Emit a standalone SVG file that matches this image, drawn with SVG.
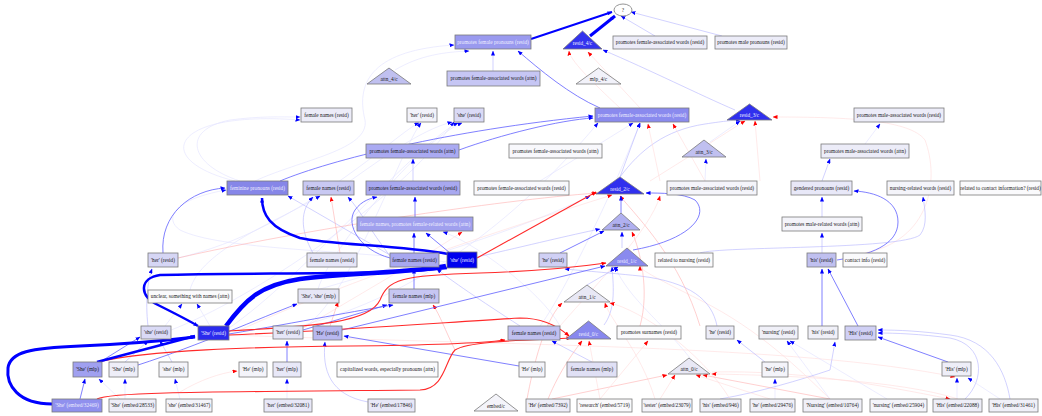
<svg xmlns="http://www.w3.org/2000/svg" width="1042" height="416" viewBox="0 0 1042 416">
<style>
.n rect,.n polygon,.n ellipse{stroke:#7a7a7a;stroke-width:0.8}
text{font-family:"Liberation Serif","Times New Roman",serif;font-size:5.3px;text-anchor:middle;fill:#1a1a1a}
text.w{fill:#eeeeff}
#edges path{fill:none}
.k{stroke:#0000ff}
.bm{stroke:#6060ff;stroke-width:0.8}
.bl{stroke:#b4b4ff;stroke-width:0.6}
.bf{stroke:#e0e0ff;stroke-width:0.6}
.rm{stroke:#ff2a2a;stroke-width:1.1}
.rl{stroke:#ffb0b0;stroke-width:0.6}
.rf{stroke:#ffdcdc;stroke-width:0.6}
.k,.bm,.bl,.bf{marker-end:url(#mb)}
.rm,.rl,.rf{marker-end:url(#mr)}
</style>
<defs>
<marker id="mb" markerUnits="userSpaceOnUse" markerWidth="5" markerHeight="4" refX="4.5" refY="2" orient="auto"><path d="M0,0 L5,2 L0,4 z" fill="#0000ff"/></marker>
<marker id="mr" markerUnits="userSpaceOnUse" markerWidth="5" markerHeight="4" refX="4.5" refY="2" orient="auto"><path d="M0,0 L5,2 L0,4 z" fill="#ff0000"/></marker>
</defs>
<rect width="1042" height="416" fill="#ffffff"/>
<g id="edges">
<path class="bf" d="M171,330 C 250,300 400,200 454,122"/>
<path class="bf" d="M178,258 C 300,230 400,130 419,123"/>
<path class="bf" d="M303,328 C 350,300 400,150 421,123"/>
<path class="bf" d="M229,328 C 300,280 420,140 458,123"/>
<path class="bf" d="M318,289 C 330,250 420,140 462,123"/>
<path class="bf" d="M447,262 C 350,250 220,250 180,230 C 165,220 170,200 226,190"/>
<path class="bf" d="M190,290 C 200,250 280,220 320,196"/>
<path class="bf" d="M210,326 L197,304"/>
<path class="bf" d="M165,326 L182,304"/>
<path class="bf" d="M560,326 C 540,290 470,240 443,232"/>
<path class="bf" d="M690,358 C 660,320 630,300 615,267"/>
<path class="bf" d="M540,326 C 560,300 610,200 640,123"/>
<path class="bf" d="M300,326 C 400,300 500,240 598,123"/>
<path class="bf" d="M320,289 C 420,260 520,230 590,196"/>
<path class="bf" d="M235,181 C 150,160 170,110 300,120"/>
<path class="rf" d="M229,335 C 500,345 800,345 955,377"/>
<path class="rf" d="M300,330 C 350,300 420,260 462,232"/>
<path class="rf" d="M712,372 C 800,370 880,385 950,399"/>
<path class="rf" d="M240,330 C 350,280 500,230 612,195"/>
<path class="rf" d="M865,253 C 930,240 940,180 925,140 C 910,120 850,117 773,117"/>
<path class="rf" d="M830,399 C 800,370 760,330 700,300 C 660,280 640,270 640,266"/>
<path class="rf" d="M560,326 C 600,280 650,230 660,196"/>
<path class="rf" d="M640,108 L588,52"/>
<path class="rf" d="M620,108 C 590,80 570,60 569,51"/>
<path class="rf" d="M650,181 C 700,150 730,130 745,121"/>
<path class="bl" d="M655,36 L621,16"/>
<path class="bl" d="M722,36 L631,12"/>
<path class="bl" d="M493,71 L493,51"/>
<path class="bf" d="M395,70 C 420,55 445,52 469,51"/>
<path class="bl" d="M413,181 L413,159"/>
<path class="bl" d="M735,110 C 700,95 650,70 603,50"/>
<path class="bl" d="M620,177 C 640,150 665,130 705,124 C 725,121 735,120 740,120"/>
<path class="bf" d="M710,142 L740,121"/>
<path class="bf" d="M705,181 L706,159"/>
<path class="bf" d="M865,144 L880,124"/>
<path class="bl" d="M822,181 L830,159"/>
<path class="bf" d="M255,181 C 300,160 370,150 365,120 C 355,80 375,50 454,45"/>
<path class="bf" d="M240,181 C 190,165 180,130 230,120 C 260,116 280,117 300,117"/>
<path class="bf" d="M350,181 C 380,160 420,130 452,122"/>
<path class="bf" d="M540,181 L633,123"/>
<path class="bl" d="M620,177 L640,123"/>
<path class="bl" d="M622,248 L622,232"/>
<path class="bl" d="M477,257 C 530,245 570,235 600,229"/>
<path class="bl" d="M587,285 L618,267"/>
<path class="bl" d="M604,325 C 615,310 614,290 612,267"/>
<path class="bl" d="M592,362 L552,341"/>
<path class="bl" d="M368,402 C 330,395 322,370 325,342"/>
<path class="bf" d="M957,399 L957,378"/>
<path class="bl" d="M965,399 C 985,380 985,345 950,338 C 920,334 895,333 878,333"/>
<path class="bl" d="M1010,399 C 1005,370 990,340 950,335 C 920,331 900,330 878,330"/>
<path class="bf" d="M1000,399 L968,378"/>
<path class="bf" d="M887,399 L790,341"/>
<path class="bf" d="M830,399 L787,341"/>
<path class="bf" d="M775,399 L775,379"/>
<path class="bl" d="M720,399 C 760,392 800,380 830,370 L835,342"/>
<path class="bf" d="M120,399 L99,379"/>
<path class="bf" d="M125,399 L125,379"/>
<path class="bf" d="M180,399 L175,379"/>
<path class="bf" d="M287,399 L287,379"/>
<path class="bl" d="M700,253 C 720,246 900,250 920,235 C 928,225 925,210 923,197"/>
<path class="bl" d="M822,253 L822,233"/>
<path class="bl" d="M822,217 L822,197"/>
<path class="bl" d="M390,255 L288,196"/>
<path class="bl" d="M313,253 C 300,230 300,210 313,197"/>
<path class="bl" d="M390,256 C 370,230 360,210 348,197"/>
<path class="bl" d="M520,326 C 480,300 450,280 437,269"/>
<path class="bl" d="M717,326 C 712,300 690,282 640,276 C 600,272 575,270 565,269"/>
<path class="bl" d="M765,362 L737,340"/>
<path class="rl" d="M330,326 L338,302"/>
<path class="rl" d="M455,350 C 445,330 440,315 433,305"/>
<path class="rl" d="M178,258 C 300,230 500,200 597,193"/>
<path class="rl" d="M340,253 L331,197"/>
<path class="rf" d="M705,181 L673,124"/>
<path class="rf" d="M660,181 L648,124"/>
<path class="rf" d="M760,181 L755,121"/>
<path class="rl" d="M700,326 C 680,260 640,220 620,196"/>
<path class="rl" d="M640,326 C 650,290 640,250 632,232"/>
<path class="rl" d="M527,399 C 540,330 555,310 562,303"/>
<path class="rf" d="M655,399 C 640,350 610,320 605,303"/>
<path class="rf" d="M730,399 C 700,350 640,310 610,303"/>
<path class="rl" d="M548,399 C 560,370 575,350 582,341"/>
<path class="rf" d="M600,399 L589,341"/>
<path class="rl" d="M552,399 L667,375"/>
<path class="rf" d="M660,399 L675,375"/>
<path class="rf" d="M770,399 L696,375"/>
<path class="rl" d="M830,399 L703,375"/>
<path class="rf" d="M958,399 C 900,380 780,375 712,374"/>
<path class="rf" d="M600,399 L648,341"/>
<path class="rf" d="M180,392 C 200,380 220,373 237,371"/>
<path class="bm" d="M80,399 L85,379"/>
<path class="bm" d="M100,362 L140,337"/>
<path class="bl" d="M125,362 L148,341"/>
<path class="bl" d="M172,362 L160,341"/>
<path class="bm" d="M287,362 L287,341"/>
<path class="bm" d="M303,330 L387,305"/>
<path class="bm" d="M229,334 C 300,322 360,310 393,305"/>
<path class="bm" d="M519,366 L344,336"/>
<path class="bm" d="M342,330 L605,266"/>
<path class="bm" d="M414,289 L414,269"/>
<path class="bm" d="M414,253 L414,233"/>
<path class="bm" d="M415,217 L415,197"/>
<path class="bm" d="M450,253 L426,233"/>
<path class="bm" d="M390,258 C 360,250 345,225 355,210 C 362,200 372,198 377,197"/>
<path class="bm" d="M459,150 C 500,135 560,120 593,118"/>
<path class="bm" d="M280,181 C 330,160 450,130 593,116"/>
<path class="bm" d="M163,253 C 160,215 190,190 225,188"/>
<path class="bm" d="M621,213 L621,196"/>
<path class="bm" d="M633,250 C 690,240 710,215 695,200 C 683,193 660,193 646,193"/>
<path class="bm" d="M822,326 L822,269"/>
<path class="bm" d="M858,326 L828,269"/>
<path class="bm" d="M948,362 L878,337"/>
<path class="bm" d="M837,260 C 870,255 898,245 898,222 C 898,200 875,192 854,191"/>
<path class="bm" d="M600,108 C 570,95 540,70 518,51"/>
<path class="bm" d="M138,365 C 200,345 260,318 297,304"/>
<path class="bm" d="M560,253 L604,231"/>
<path class="bl" d="M148,326 C 145,300 148,280 152,269"/>
<path class="rm" d="M97,362 C 150,350 250,347 350,346 C 450,345 490,342 505,340"/>
<path class="rm" d="M97,399 C 110,392 200,392 420,390 C 445,389 445,360 455,350 C 470,340 540,340 571,338"/>
<path class="rm" d="M229,331 C 320,326 370,322 380,300 C 388,280 400,275 480,273 C 540,271 585,266 606,263"/>
<path class="rm" d="M229,335 C 350,330 450,322 520,318 C 545,318 560,328 569,336"/>
<path class="rm" d="M477,258 L596,192"/>
<path class="k" stroke-width="2" d="M531,39 L612,12"/>
<path class="k" stroke-width="3" d="M590,36 L615,16"/>
<path class="k" stroke-width="3" d="M52,404 C 18,404 6,385 8,368 C 10,352 30,348 80,346 C 130,344 170,340 195,337"/>
<path class="k" stroke-width="2.5" d="M97,362 L195,336"/>
<path class="k" stroke-width="4.5" d="M226,326 C 245,300 260,285 300,279 C 350,273 420,272 446,266"/>
<path class="k" stroke-width="2.5" d="M448,254 C 400,245 330,245 300,238 C 270,228 262,215 262,198"/>
<path class="k" stroke-width="2.5" d="M447,268 C 380,276 250,272 160,275 C 140,278 138,295 158,305 C 176,314 188,320 198,326"/>
</g>
<g id="q" class="n"><ellipse cx="623" cy="10" rx="9" ry="6" fill="#ffffff"/><text x="623" y="12">?</text></g>
<g id="n_pfp" class="n"><rect x="455" y="35" width="76" height="14" fill="#9a9aef"/><text class="w" x="493" y="43.8">promotes female pronouns (resid)</text></g>
<g id="n_r4" class="n"><polygon points="563,49 602,49 582.5,31" fill="#3434ee"/><text class="w" x="582.5" y="45">resid_4/c</text></g>
<g id="n_pfaw_t" class="n"><rect x="613" y="36" width="94" height="13" fill="#ececf8"/><text x="660" y="44.3">promotes female-associated words (resid)</text></g>
<g id="n_pmp" class="n"><rect x="715" y="36" width="72" height="13" fill="#ececf8"/><text x="751" y="44.3">promotes male pronouns (resid)</text></g>
<g id="n_a4" class="n"><polygon points="367,84 411,84 389,68" fill="#c0c0f0"/><text x="389" y="80.5">attn_4/c</text></g>
<g id="n_pfaw_a4" class="n"><rect x="447" y="71" width="93" height="15" fill="#c6c6f4"/><text x="493.5" y="80.3">promotes female-associated words (attn)</text></g>
<g id="n_m4" class="n"><polygon points="576,84 621,84 598.5,68" fill="#f2f2fa"/><text x="598.5" y="80.5">mlp_4/c</text></g>
<g id="n_fn3" class="n"><rect x="301" y="108" width="51" height="14" fill="#ececf8"/><text x="326.5" y="116.8">female names (resid)</text></g>
<g id="n_her3" class="n"><rect x="407" y="108" width="30" height="14" fill="#f2f2fa"/><text x="422" y="116.8">'her' (resid)</text></g>
<g id="n_she3" class="n"><rect x="454" y="108" width="30" height="14" fill="#dadaf6"/><text x="469" y="116.8">'she' (resid)</text></g>
<g id="n_pfaw3" class="n"><rect x="595" y="108" width="94" height="14" fill="#8a8aee"/><text class="w" x="642" y="116.8">promotes female-associated words (resid)</text></g>
<g id="n_r3" class="n"><polygon points="727,120 772,120 749.5,104" fill="#3030ee"/><text class="w" x="749.5" y="116.5">resid_3/c</text></g>
<g id="n_pmaw3" class="n"><rect x="854" y="108" width="90" height="14" fill="#ececf8"/><text x="899" y="116.8">promotes male-associated words (resid)</text></g>
<g id="n_pfaw_a3a" class="n"><rect x="366" y="144" width="93" height="14" fill="#aaaaf2"/><text x="412.5" y="152.8">promotes female-associated words (attn)</text></g>
<g id="n_pfaw_a3b" class="n"><rect x="509" y="144" width="93" height="14" fill="#f8f8fc"/><text x="555.5" y="152.8">promotes female-associated words (attn)</text></g>
<g id="n_a3" class="n"><polygon points="682,157 726,157 704,140" fill="#c0c0f0"/><text x="704" y="153.5">attn_3/c</text></g>
<g id="n_pmaw_a3" class="n"><rect x="821" y="144" width="88" height="14" fill="#ececf8"/><text x="865" y="152.8">promotes male-associated words (attn)</text></g>
<g id="n_fem2" class="n"><rect x="227" y="181" width="61" height="14" fill="#8686e8"/><text class="w" x="257.5" y="189.8">feminine pronouns (resid)</text></g>
<g id="n_fn2" class="n"><rect x="303" y="181" width="51" height="14" fill="#c8c8f2"/><text x="328.5" y="189.8">female names (resid)</text></g>
<g id="n_pfaw2a" class="n"><rect x="366" y="181" width="94" height="14" fill="#a8a8f0"/><text x="413" y="189.8">promotes female-associated words (resid)</text></g>
<g id="n_pfaw2b" class="n"><rect x="474" y="181" width="95" height="14" fill="#f8f8fc"/><text x="521.5" y="189.8">promotes female-associated words (resid)</text></g>
<g id="n_r2" class="n"><polygon points="596,194 644,194 620,177" fill="#3030ee"/><text class="w" x="620" y="190.5">resid_2/c</text></g>
<g id="n_pmaw2" class="n"><rect x="667" y="181" width="90" height="14" fill="#f4f4fa"/><text x="712" y="189.8">promotes male-associated words (resid)</text></g>
<g id="n_gend2" class="n"><rect x="791" y="181" width="61" height="14" fill="#e8e8f8"/><text x="821.5" y="189.8">gendered pronouns (resid)</text></g>
<g id="n_nurs2" class="n"><rect x="887" y="181" width="67" height="14" fill="#f4f4fa"/><text x="920.5" y="189.8">nursing-related words (resid)</text></g>
<g id="n_contact2" class="n"><rect x="960" y="181" width="81" height="14" fill="#fafafc"/><text x="1000.5" y="189.8">related to contact information? (resid)</text></g>
<g id="n_fnattn2" class="n"><rect x="357" y="217" width="116" height="14" fill="#a0a0ee"/><text class="w" x="415" y="225.8">female names, promotes female-related words (attn)</text></g>
<g id="n_a2" class="n"><polygon points="602,230 640,230 621,213" fill="#b0b0f0"/><text x="621" y="226.5">attn_2/c</text></g>
<g id="n_pmrw2" class="n"><rect x="782" y="217" width="80" height="14" fill="#f4f4fa"/><text x="822" y="225.8">promotes male-related words (attn)</text></g>
<g id="n_her1" class="n"><rect x="148" y="253" width="30" height="14" fill="#d6d6f5"/><text x="163" y="261.8">'her' (resid)</text></g>
<g id="n_fn1a" class="n"><rect x="307" y="253" width="50" height="14" fill="#e6e6f8"/><text x="332" y="261.8">female names (resid)</text></g>
<g id="n_fn1b" class="n"><rect x="390" y="253" width="49" height="14" fill="#a8a8f0"/><text x="414.5" y="261.8">female names (resid)</text></g>
<g id="n_she1" class="n"><rect x="447" y="252" width="30" height="16" fill="#0000ee"/><text class="w" x="462" y="261.8">'she' (resid)</text></g>
<g id="n_he1" class="n"><rect x="539" y="253" width="28" height="14" fill="#d0d0f5"/><text x="553" y="261.8">'he' (resid)</text></g>
<g id="n_r1" class="n"><polygon points="606,266 648,266 627,248" fill="#8a8aee"/><text class="w" x="627" y="262.5">resid_1/c</text></g>
<g id="n_relnurs1" class="n"><rect x="655" y="253" width="58" height="14" fill="#fafafc"/><text x="684" y="261.8">related to nursing (resid)</text></g>
<g id="n_his1" class="n"><rect x="807" y="253" width="29" height="14" fill="#c0c0f0"/><text x="821.5" y="261.8">'his' (resid)</text></g>
<g id="n_ci1" class="n"><rect x="843" y="253" width="44" height="14" fill="#fafafc"/><text x="865" y="261.8">contact info (resid)</text></g>
<g id="n_unclear1" class="n"><rect x="148" y="290" width="84" height="13" fill="#fafafc"/><text x="190" y="298.3">unclear, something with names (attn)</text></g>
<g id="n_Ssmlp1" class="n"><rect x="298" y="289" width="41" height="14" fill="#e6e6f6"/><text x="318.5" y="297.8">'She', 'she' (mlp)</text></g>
<g id="n_fnmlp1" class="n"><rect x="389" y="289" width="50" height="14" fill="#c6c6f2"/><text x="414" y="297.8">female names (mlp)</text></g>
<g id="n_a1" class="n"><polygon points="564,302 610,302 587,285" fill="#e8e8f5"/><text x="587" y="298.5">attn_1/c</text></g>
<g id="n_she0" class="n"><rect x="141" y="326" width="30" height="13" fill="#dadaf6"/><text x="156" y="334.3">'she' (resid)</text></g>
<g id="n_She0" class="n"><rect x="198" y="326" width="31" height="14" fill="#2a2aee"/><text class="w" x="213.5" y="334.8">'She' (resid)</text></g>
<g id="n_her0" class="n"><rect x="273" y="326" width="30" height="13" fill="#e6e6f8"/><text x="288" y="334.3">'her' (resid)</text></g>
<g id="n_He0" class="n"><rect x="313" y="326" width="29" height="14" fill="#b8b8f0"/><text x="327.5" y="334.8">'He' (resid)</text></g>
<g id="n_fn0" class="n"><rect x="508" y="326" width="52" height="14" fill="#c0c0f0"/><text x="534" y="334.8">female names (resid)</text></g>
<g id="n_r0" class="n"><polygon points="566,339 611,339 588.5,321" fill="#8888ee"/><text class="w" x="588.5" y="335.5">resid_0/c</text></g>
<g id="n_sur0" class="n"><rect x="617" y="326" width="64" height="13" fill="#fafafc"/><text x="649" y="334.3">promotes surnames (resid)</text></g>
<g id="n_he0" class="n"><rect x="706" y="326" width="28" height="13" fill="#ececf8"/><text x="720" y="334.3">'he' (resid)</text></g>
<g id="n_nurs0" class="n"><rect x="759" y="326" width="39" height="13" fill="#f0f0f8"/><text x="778.5" y="334.3">'nursing' (resid)</text></g>
<g id="n_his0" class="n"><rect x="808" y="326" width="30" height="13" fill="#f0f0f8"/><text x="823" y="334.3">'his' (resid)</text></g>
<g id="n_His0" class="n"><rect x="845" y="326" width="31" height="14" fill="#d0d0f5"/><text x="860.5" y="334.8">'His' (resid)</text></g>
<g id="n_Shemlp0a" class="n"><rect x="73" y="362" width="29" height="15" fill="#a0a0f0"/><text x="87.5" y="371.3">'She' (mlp)</text></g>
<g id="n_Shemlp0b" class="n"><rect x="109" y="362" width="29" height="15" fill="#eeeef8"/><text x="123.5" y="371.3">'She' (mlp)</text></g>
<g id="n_shemlp0" class="n"><rect x="159" y="362" width="29" height="15" fill="#f4f4fa"/><text x="173.5" y="371.3">'she' (mlp)</text></g>
<g id="n_Hemlp0a" class="n"><rect x="239" y="362" width="28" height="15" fill="#f4f4fa"/><text x="253" y="371.3">'He' (mlp)</text></g>
<g id="n_hermlp0" class="n"><rect x="273" y="362" width="28" height="15" fill="#e8e8f8"/><text x="287" y="371.3">'her' (mlp)</text></g>
<g id="n_cap0" class="n"><rect x="337" y="362" width="101" height="15" fill="#fafafc"/><text x="387.5" y="371.3">capitalized words, especially pronouns (attn)</text></g>
<g id="n_Hemlp0b" class="n"><rect x="519" y="362" width="26" height="15" fill="#f4f4fa"/><text x="532" y="371.3">'He' (mlp)</text></g>
<g id="n_fnmlp0" class="n"><rect x="567" y="362" width="50" height="15" fill="#e0e0f5"/><text x="592" y="371.3">female names (mlp)</text></g>
<g id="n_a0" class="n"><polygon points="668,374 710,374 689,358" fill="#e8e8f5"/><text x="689" y="370.5">attn_0/c</text></g>
<g id="n_hemlp0" class="n"><rect x="762" y="362" width="26" height="15" fill="#f4f4fa"/><text x="775" y="371.3">'he' (mlp)</text></g>
<g id="n_Hismlp0" class="n"><rect x="942" y="362" width="29" height="14" fill="#eeeef8"/><text x="956.5" y="370.8">'His' (mlp)</text></g>
<g id="e1" class="n"><rect x="52" y="399" width="50" height="13" fill="#9090ee"/><text class="w" x="77" y="407.3">'She' (embed/32469)</text></g>
<g id="e2" class="n"><rect x="109" y="399" width="47" height="13" fill="#eeeef8"/><text x="132.5" y="407.3">'She' (embed/28533)</text></g>
<g id="e3" class="n"><rect x="166" y="399" width="46" height="13" fill="#f4f4fa"/><text x="189" y="407.3">'she' (embed/31467)</text></g>
<g id="e4" class="n"><rect x="264" y="399" width="48" height="13" fill="#e8e8f8"/><text x="288" y="407.3">'her' (embed/32081)</text></g>
<g id="e5" class="n"><rect x="368" y="399" width="47" height="13" fill="#e8e8f8"/><text x="391.5" y="407.3">'He' (embed/17846)</text></g>
<g id="ec" class="n"><polygon points="474,411 518,411 496,394" fill="#f4f4fa"/><text x="496" y="407.5">embed/c</text></g>
<g id="e6" class="n"><rect x="526" y="399" width="44" height="13" fill="#eeeef8"/><text x="548" y="407.3">'He' (embed/7392)</text></g>
<g id="e7" class="n"><rect x="577" y="399" width="55" height="13" fill="#fafafc"/><text x="604.5" y="407.3">'research' (embed/5719)</text></g>
<g id="e8" class="n"><rect x="642" y="399" width="50" height="13" fill="#f4f4fa"/><text x="667" y="407.3">'tester' (embed/23079)</text></g>
<g id="e9" class="n"><rect x="700" y="399" width="41" height="13" fill="#f0f0f8"/><text x="720.5" y="407.3">'his' (embed/946)</text></g>
<g id="e10" class="n"><rect x="750" y="399" width="45" height="13" fill="#f0f0f8"/><text x="772.5" y="407.3">'he' (embed/29476)</text></g>
<g id="e11" class="n"><rect x="803" y="399" width="59" height="13" fill="#f0f0f8"/><text x="832.5" y="407.3">'Nursing' (embed/10764)</text></g>
<g id="e12" class="n"><rect x="870" y="399" width="57" height="13" fill="#f4f4fa"/><text x="898.5" y="407.3">'nursing' (embed/25904)</text></g>
<g id="e13" class="n"><rect x="933" y="399" width="49" height="13" fill="#eeeef8"/><text x="957.5" y="407.3">'His' (embed/22088)</text></g>
<g id="e14" class="n"><rect x="989" y="399" width="49" height="13" fill="#f0f0f8"/><text x="1013.5" y="407.3">'His' (embed/31461)</text></g>
</svg>
